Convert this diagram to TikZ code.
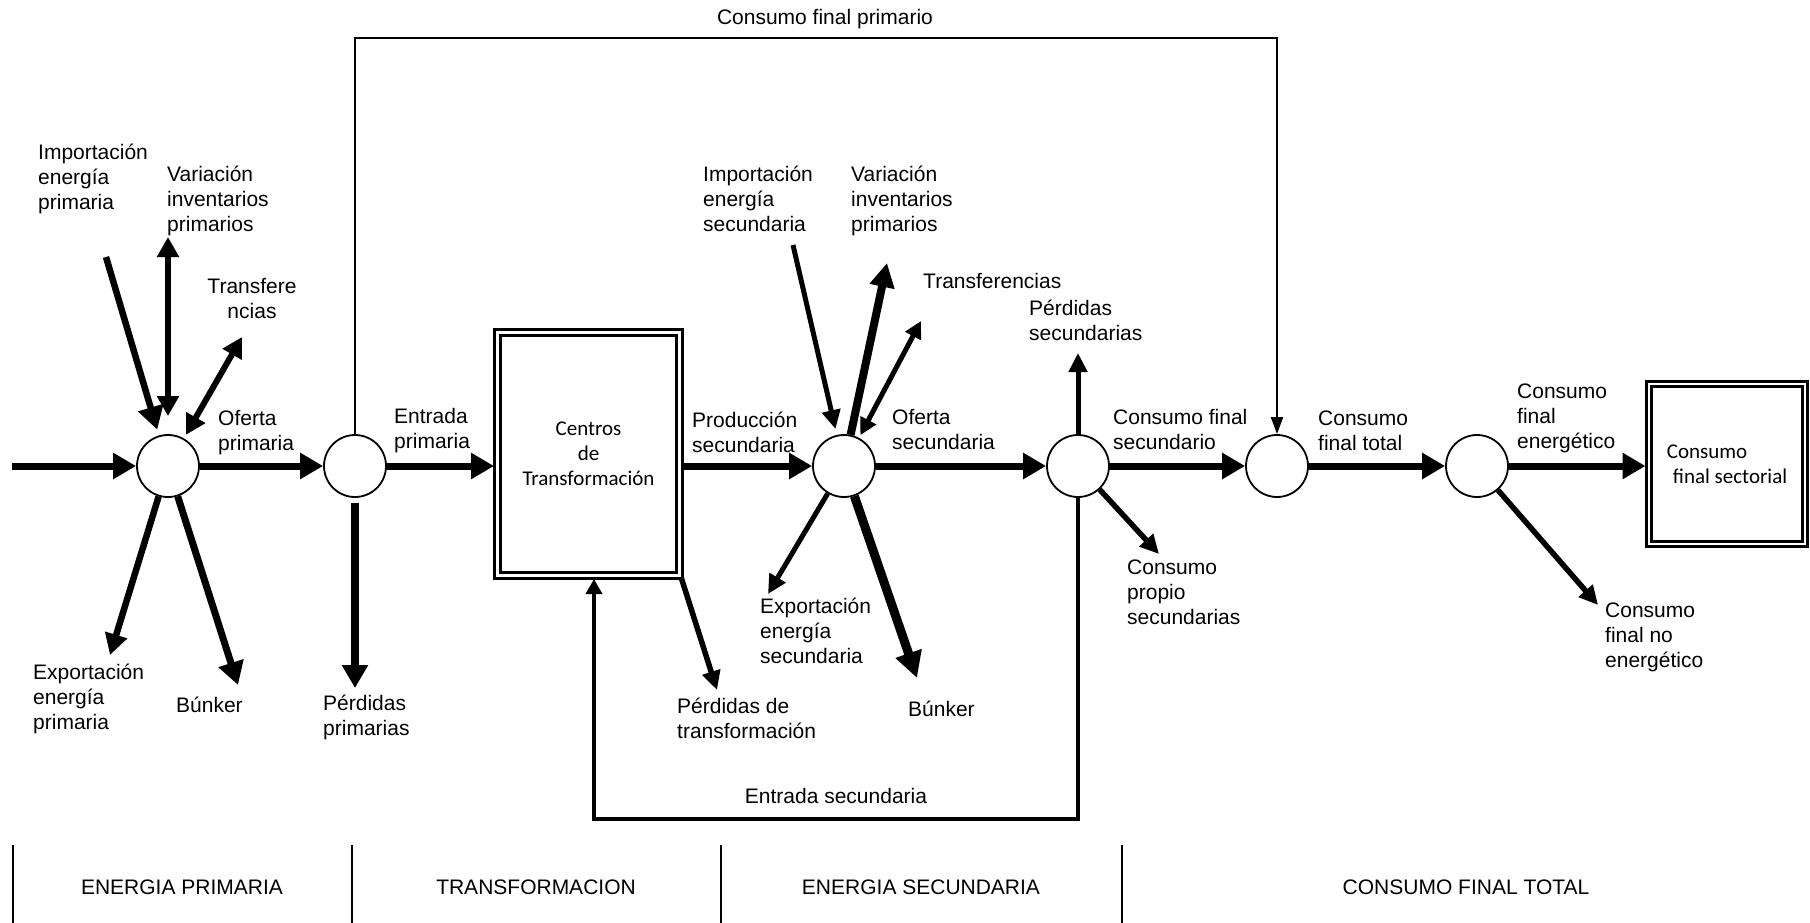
\documentclass[tikz,border=0pt]{standalone}
\usepackage{fontspec}
\setmainfont{Liberation Sans}
\newfontfamily\calibri{Carlito}
\usepackage{tikz}
\usetikzlibrary{arrows.meta}
\newcommand{\lblsize}{\fontsize{21}{25}\selectfont}
\newcommand{\flowwidth}{7pt}
\tikzset{
  junction/.style={circle, draw, line width=1.8pt, minimum size=62pt, inner sep=0pt},
  centre/.style={draw, line width=3pt, double, double distance=2.5pt, inner sep=0pt,
    align=center, font=\calibri\lblsize},
  flow/.style={line width=\flowwidth, -{Triangle[length=23pt,width=25pt]}},
  branch/.style={line width=5pt, -{Triangle[length=19pt,width=18pt]}},
  heavy/.style={line width=8pt, -{Triangle[length=24pt,width=24pt]}},
  twoway/.style={line width=6pt, {Triangle[length=20pt,width=21pt]}-{Triangle[length=20pt,width=21pt]}},
  feed/.style={line width=2pt, -{Triangle[length=17pt,width=12pt]}},
  loopback/.style={line width=4pt, -{Triangle[length=15pt,width=16pt]}},
  tag/.style={font=\lblsize, align=left, anchor=base west, inner sep=0pt},
  band/.style={font=\lblsize, anchor=base, inner sep=0pt},
  divider/.style={line width=2pt},
}

\begin{document}
\begin{tikzpicture}[x=1pt,y=-1pt]
\useasboundingbox (0,0) rectangle (1810,923);
%junctions
\node[junction] (c1) at (168,466) {};
\node[junction] (c2) at (355,466) {};
\node[junction] (c3) at (844,466) {};
\node[junction] (c4) at (1078,466) {};
\node[junction] (c5) at (1277,466) {};
\node[junction] (c6) at (1477,466) {};
\node[centre, minimum width=182pt, minimum height=243pt] (box1) at (588.5,454) {Centros\\de\\Transformación};
\node[centre, minimum width=156pt, minimum height=160pt, align=left] (box2) at (1727,464) {Consumo\\\hspace{6pt}final sectorial};
%free ends
\coordinate (src) at (12,466);
\coordinate (impP) at (106,257);
\coordinate (varP) at (168,237);
\coordinate (trP) at (242,337);
\coordinate (expP) at (110,655);
\coordinate (bunP) at (238,685);
\coordinate (lossP) at (355,688);
\coordinate (top) at (825,38);
\coordinate (ptl) at (717,690);
\coordinate (impS) at (793,245);
\coordinate (varS) at (887,263);
\coordinate (trS) at (921,321);
\coordinate (expS) at (768,594);
\coordinate (bunS) at (917,678);
\coordinate (lossS) at (1078,353);
\coordinate (cps) at (1159,554);
\coordinate (loop) at (594,819);
\coordinate (cfne) at (1598,605);
%main line
\draw[flow] (src) -- (c1);
\draw[flow] (c1) -- (c2);
\draw[flow, shorten >=2pt] (c2) -- (c2 -| box1.west);
\draw[flow] (c3 -| box1.east) -- (c3);
\draw[flow] (c3) -- (c4);
\draw[flow] (c4) -- (c5);
\draw[flow] (c5) -- (c6);
\draw[flow, shorten >=2pt] (c6) -- (c6 -| box2.west);
%primary
\draw[flow, line width=6.5pt, shorten >=6pt] (impP) -- (c1);
\draw[twoway, line width=6.5pt, shorten >=18pt] (varP) -- (c1);
\draw[twoway, shorten >=4pt] (trP) -- (c1);
\draw[flow, line width=6.5pt, -{Triangle[length=21pt,width=22pt]}] (c1) -- (expP);
\draw[flow] (c1) -- (bunP);
\draw[flow, line width=7.5pt, shorten <=5pt] (c2) -- (lossP);
\draw[feed] (c2.north) |- (top) -| (c5.north);
%transformation
\draw[branch, line width=5.5pt] (box1.south east) -- (ptl);
\draw[loopback, shorten >=2pt] (c4.south) |- (loop) -- (loop |- box1.south);
%secondary
\draw[branch, shorten >=6pt] (impS) -- (c3);
\draw[heavy] (c3) -- (varS);
\draw[twoway, line width=5pt, {Triangle[length=17pt,width=17pt]}-{Triangle[length=17pt,width=17pt]}, shorten >=3pt] (trS) -- (c3);
\draw[branch] (c3) -- (expS);
\draw[heavy, line width=9pt, -{Triangle[length=26pt,width=26pt]}] (c3) -- (bunS);
\draw[branch] (c4) -- (lossS);
\draw[branch, line width=5.5pt] (c4) -- (cps);
%final
\draw[branch, line width=5.5pt] (c6) -- (cfne);
%labels (base = last line)
\node[tag] (tImpP) at (38,209) {Importación\\energía\\primaria};
\node[tag] (tVarP) at (167,231) {Variación\\inventarios\\primarios};
\node[tag, anchor=base, align=center] (tTrP) at (252,318) {Transfere\\ncias};
\node[tag] (tOfP) at (218,450) {Oferta\\primaria};
\node[tag] (tEntP) at (394,448) {Entrada\\primaria};
\node[tag] (tLossP) at (323,735) {Pérdidas\\primarias};
\node[tag] (tExpP) at (33,729) {Exportación\\energía\\primaria};
\node[tag] (tBunP) at (176,712) {Búnker};
\node[tag] (tProdS) at (692,452) {Producción\\secundaria};
\node[tag] (tImpS) at (703,231) {Importación\\energía\\secundaria};
\node[tag] (tVarS) at (851,231) {Variación\\inventarios\\primarios};
\node[tag] (tTrS) at (923,288) {Transferencias};
\node[tag] (tLossS) at (1029,340) {Pérdidas\\secundarias};
\node[tag] (tOfS) at (892,449) {Oferta\\secundaria};
\node[tag] (tExpS) at (760,663) {Exportación\\energía\\secundaria};
\node[tag] (tBunS) at (908,716) {Búnker};
\node[tag] (tPtl) at (677,738) {Pérdidas de\\transformación};
\node[band] (tEntS) at (836,803) {Entrada secundaria};
\node[tag] (tCfs) at (1113,449) {Consumo final\\secundario};
\node[tag] (tCps) at (1127,624) {Consumo\\propio\\secundarias};
\node[tag] (tCft) at (1318,450) {Consumo\\final total};
\node[tag] (tCfe) at (1517,448) {Consumo\\final\\energético};
\node[tag] (tCfne) at (1605,667) {Consumo\\final no\\energético};
\node[band] (tCfp) at (825,25) {Consumo final primario};
%stages
\draw[divider] (13,845) -- (13,923);
\draw[divider] (352,845) -- (352,923);
\draw[divider] (721,845) -- (721,923);
\draw[divider] (1122,845) -- (1122,923);
\node[band] (s1) at (182,894) {ENERGIA PRIMARIA};
\node[band] (s2) at (536,894) {TRANSFORMACION};
\node[band] (s3) at (921,894) {ENERGIA SECUNDARIA};
\node[band] (s4) at (1466,894) {CONSUMO FINAL TOTAL};
\end{tikzpicture}
\end{document}
